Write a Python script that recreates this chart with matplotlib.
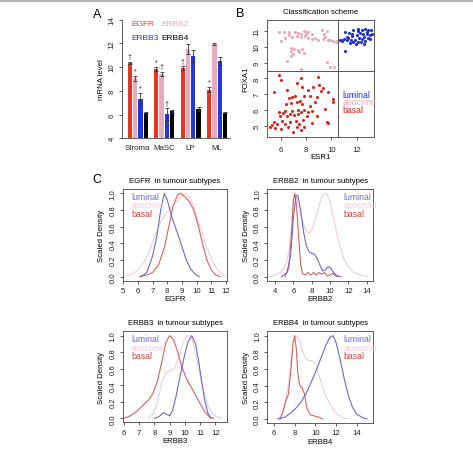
import matplotlib
matplotlib.use('Agg')
import matplotlib.pyplot as plt
from matplotlib.lines import Line2D

plt.rcParams['font.family'] = ['Liberation Sans', 'DejaVu Sans']

# ---------------- Panel A data ----------------
groups = ['Stroma', 'MaSC', 'LP', 'ML']
genes = ['EGFR', 'ERBB2', 'ERBB3', 'ERBB4']
egfr_level = [10.35, 9.84, 9.93, 8.10]
erbb2_level = [9.06, 9.42, 11.53, 11.95]
erbb3_level = [7.31, 6.05, 10.97, 10.54]
erbb4_level = [6.10, 6.27, 6.47, 6.16]
egfr_err = [0.12, 0.2, 0.15, 0.2]
erbb2_err = [0.2, 0.2, 0.4, 0.1]
erbb3_err = [0.5, 0.5, 0.5, 0.35]
erbb4_err = [0.08, 0.1, 0.2, 0.05]
egfr_sig = ['†', '*', '†', '*']
erbb2_sig = ['*', '†', '', '']
erbb3_sig = ['*', '†', '', '']
erbb4_sig = ['', '', '', '']

# ---------------- Panel B data ----------------
apocrine_esr1 = [5.87, 6.26, 6.66, 7.13, 7.39, 7.87, 8.02, 8.18, 7.97, 7.60, 8.44, 9.23, 9.63, 9.44,
                 6.02, 6.34, 6.66, 6.87, 7.26, 7.60, 7.92, 8.13, 8.44, 8.71, 8.97, 9.37, 9.50, 9.71,
                 9.89, 10.16, 10.42, 10.34, 6.81, 7.08, 7.39, 7.66, 6.81, 7.45, 6.97, 7.87, 6.47,
                 7.60, 9.89, 10.23, 9.68, 6.80]
apocrine_foxa1 = [10.98, 10.98, 10.98, 10.93, 10.89, 11.02, 10.98, 10.93, 10.85, 10.81, 10.85, 11.06,
                  11.02, 10.85, 10.38, 10.59, 10.74, 10.64, 10.68, 10.64, 10.68, 10.59, 10.51, 10.55,
                  10.42, 10.51, 10.64, 10.42, 10.47, 10.38, 10.38, 10.30, 9.96, 9.87, 9.83, 9.87,
                  9.74, 9.68, 9.53, 9.62, 9.11, 8.58, 8.73, 8.73, 9.02, 9.45]
luminal_esr1 = [11.08, 11.39, 11.73, 12.13, 12.39, 12.66, 12.92, 13.13, 13.23, 12.79, 12.52, 12.26,
                12.00, 11.66, 11.34, 11.02, 10.76, 10.87, 11.21, 11.55, 11.87, 12.18, 12.55, 12.87,
                13.08, 12.66, 12.34, 12.08, 11.73, 11.47, 11.92, 12.39, 12.79, 11.23, 11.60, 11.08,
                10.71, 12.13, 13.05, 12.60]
luminal_foxa1 = [10.96, 10.89, 11.06, 11.02, 11.10, 11.17, 11.06, 11.10, 10.85, 10.85, 10.81, 10.89,
                 10.74, 10.68, 10.59, 10.51, 10.47, 10.38, 10.42, 10.42, 10.47, 10.59, 10.64, 10.59,
                 10.51, 10.38, 10.30, 10.34, 10.30, 10.25, 10.17, 10.51, 10.96, 10.64, 10.85, 9.74,
                 10.42, 11.15, 10.74, 10.17]
basal_esr1 = [5.87, 6.02, 7.60, 8.97, 5.44, 6.47, 7.29, 7.71, 8.13, 8.52, 9.05, 9.37, 9.76, 10.16,
              6.87, 7.13, 6.66, 7.87, 8.29, 7.55, 8.84, 6.39, 6.81, 7.29, 7.71, 8.31, 8.71, 5.87,
              6.34, 6.92, 7.39, 7.87, 8.44, 9.50, 5.50, 5.94, 6.21, 6.47, 6.73, 7.08, 7.34, 7.60,
              8.05, 8.84, 9.63, 9.76, 5.34, 5.68, 6.08, 6.34, 6.73, 7.18, 7.45, 7.79, 5.16, 5.55,
              6.02, 6.60, 7.26, 7.60, 8.18, 7.00, 7.87, 8.50, 10.16, 9.18]
basal_foxa1 = [8.19, 7.88, 8.02, 8.09, 7.13, 7.28, 7.71, 7.45, 7.24, 7.45, 7.56, 7.41, 7.11, 6.71,
               6.82, 6.90, 6.77, 6.86, 6.90, 6.56, 6.82, 6.39, 6.43, 6.47, 6.39, 6.26, 6.52, 5.84,
               5.92, 5.92, 6.01, 6.01, 5.92, 6.07, 5.24, 5.58, 5.80, 5.63, 5.73, 5.67, 5.73, 5.84,
               5.63, 5.63, 5.24, 5.16, 5.01, 5.12, 5.29, 5.08, 5.22, 5.29, 5.12, 5.33, 4.91, 4.86,
               4.80, 4.91, 4.91, 4.69, 5.84, 4.59, 4.91, 5.16, 6.50, 7.20]
esr1_cut = 10.55
foxa1_cut = 8.5

# ---------------- Panel C data (scaled densities) ----------------
egfr_lum_x = [6.2, 6.6, 7.0, 7.3, 7.55, 7.8, 8.0, 8.3, 8.7, 9.0, 9.3, 9.6, 9.9, 10.2]
egfr_lum_y = [0.0, 0.05, 0.25, 0.5, 0.8, 1.0, 0.92, 0.72, 0.52, 0.36, 0.2, 0.09, 0.03, 0.0]
egfr_apo_x = [5.1, 5.6, 6.0, 6.4, 6.8, 7.2, 7.6, 8.0, 8.4, 8.8, 9.2, 9.5, 9.8, 10.2, 10.6, 11.0, 11.4, 11.8, 12.0]
egfr_apo_y = [0.0, 0.03, 0.08, 0.17, 0.32, 0.52, 0.68, 0.78, 0.85, 0.93, 1.0, 0.96, 0.84, 0.62, 0.4, 0.22, 0.09, 0.02, 0.0]
egfr_bas_x = [6.1, 6.6, 7.0, 7.4, 7.8, 8.1, 8.4, 8.7, 8.9, 9.2, 9.5, 9.8, 10.1, 10.4, 10.7, 11.0, 11.3, 11.6]
egfr_bas_y = [0.0, 0.02, 0.05, 0.14, 0.35, 0.6, 0.85, 0.98, 1.0, 0.96, 0.9, 0.8, 0.62, 0.4, 0.2, 0.08, 0.02, 0.0]

erbb2_lum_x = [4.7, 5.3, 5.7, 6.0, 6.3, 6.5, 6.8, 7.1, 7.4, 7.7, 8.0, 8.3, 8.6, 8.9, 9.2, 9.5, 9.8, 10.1, 10.4, 10.8, 11.2]
erbb2_lum_y = [0.0, 0.05, 0.25, 0.7, 0.98, 0.97, 0.8, 0.55, 0.38, 0.3, 0.28, 0.27, 0.22, 0.14, 0.07, 0.08, 0.12, 0.1, 0.05, 0.01, 0.0]
erbb2_apo_x = [3.3, 4.0, 4.7, 5.2, 5.6, 5.9, 6.1, 6.3, 6.6, 6.9, 7.2, 7.5, 7.8, 8.1, 8.4, 8.7, 9.0, 9.3,
               9.6, 9.9, 10.2, 10.6, 11.0, 11.5, 12.0, 12.6, 13.3, 14.2]
erbb2_apo_y = [0.0, 0.02, 0.06, 0.15, 0.35, 0.75, 0.95, 0.97, 0.85, 0.7, 0.6, 0.53, 0.52, 0.58, 0.68, 0.8,
               0.92, 0.99, 1.0, 0.94, 0.8, 0.6, 0.4, 0.22, 0.12, 0.05, 0.02, 0.0]
erbb2_bas_x = [5.1, 5.5, 5.8, 6.0, 6.15, 6.35, 6.6, 6.8, 7.0, 7.3, 7.6, 7.9, 8.2, 8.5, 8.8, 9.1, 9.4, 9.7,
               10.0, 10.3, 10.6, 10.9]
erbb2_bas_y = [0.0, 0.1, 0.5, 0.92, 1.0, 0.85, 0.45, 0.15, 0.04, 0.02, 0.05, 0.02, 0.05, 0.02, 0.05, 0.03,
               0.05, 0.01, 0.02, 0.04, 0.01, 0.0]

erbb3_lum_x = [8.0, 8.3, 8.6, 8.8, 9.0, 9.2, 9.4, 9.7, 10.0, 10.2, 10.45, 10.7, 10.9, 11.1, 11.3, 11.5, 11.7]
erbb3_lum_y = [0.0, 0.02, 0.07, 0.05, 0.03, 0.1, 0.25, 0.52, 0.78, 0.92, 1.0, 0.9, 0.7, 0.45, 0.22, 0.07, 0.0]
erbb3_apo_x = [7.6, 7.9, 8.2, 8.5, 8.75, 9.0, 9.3, 9.6, 9.9, 10.15, 10.4, 10.6, 10.9, 11.2, 11.5, 11.8, 12.1, 12.4]
erbb3_apo_y = [0.0, 0.05, 0.2, 0.45, 0.55, 0.57, 0.6, 0.72, 0.93, 1.0, 0.98, 0.88, 0.6, 0.35, 0.15, 0.06, 0.02, 0.0]
erbb3_bas_x = [6.0, 6.4, 6.8, 7.2, 7.6, 7.9, 8.2, 8.5, 8.75, 9.0, 9.25, 9.5, 9.8, 10.1, 10.4, 10.7, 11.0, 11.3, 11.6, 11.9]
erbb3_bas_y = [0.0, 0.03, 0.08, 0.15, 0.22, 0.3, 0.45, 0.7, 0.92, 1.0, 0.95, 0.82, 0.62, 0.48, 0.38, 0.28, 0.18, 0.08, 0.02, 0.0]

erbb4_lum_x = [6.4, 7.0, 7.6, 8.2, 8.7, 9.2, 9.7, 10.2, 10.6, 11.0, 11.4, 11.7, 12.0, 12.4, 12.8, 13.2, 13.6, 14.0, 14.5, 15.0]
erbb4_lum_y = [0.0, 0.02, 0.07, 0.14, 0.22, 0.33, 0.47, 0.62, 0.75, 0.88, 0.98, 1.0, 0.92, 0.72, 0.48, 0.28, 0.14, 0.06, 0.02, 0.0]
erbb4_apo_x = [6.1, 6.5, 6.8, 7.1, 7.4, 7.7, 7.95, 8.2, 8.5, 8.8, 9.1, 9.4, 9.7, 10.0, 10.3, 10.6, 11.0, 11.4,
               11.8, 12.2, 12.6, 13.1]
erbb4_apo_y = [0.0, 0.02, 0.06, 0.2, 0.42, 0.78, 0.97, 1.0, 0.92, 0.8, 0.72, 0.7, 0.7, 0.66, 0.55, 0.42, 0.28,
               0.18, 0.1, 0.05, 0.02, 0.0]
erbb4_bas_x = [6.6, 6.9, 7.1, 7.4, 7.65, 7.85, 8.0, 8.15, 8.3, 8.5, 8.7, 8.95, 9.2, 9.5, 9.8, 10.1, 10.4, 10.7]
erbb4_bas_y = [0.0, 0.1, 0.2, 0.3, 0.6, 0.92, 1.0, 0.85, 0.55, 0.4, 0.38, 0.3, 0.12, 0.05, 0.04, 0.03, 0.02, 0.0]

subtypes = ['luminal', 'apocrine', 'basal']

# ---------------- styling ----------------
W, H = 473, 452
fig = plt.figure(figsize=(W / 100, H / 100), dpi=100)
FS = 5.6
AX_COL = '#444444'
bar_cols = ['#EA3323', '#E9AAB9', '#2436E0', '#000000']
sc_cols = {'luminal': '#1E2ED2', 'apocrine': '#E9A9B9', 'basal': '#D6281C'}
dens_cols = {'luminal': '#6A6ACD', 'apocrine': '#EFCDD5', 'basal': '#D9625B'}


def add_ax(l, t, r, b):
    return fig.add_axes([l / W, 1 - b / H, (r - l) / W, (b - t) / H])


def ftext(x, y, s, **kw):
    fig.text(x / W, 1 - y / H, s, **kw)


def style_r(ax, rot_y=True):
    for sp in ax.spines.values():
        sp.set_linewidth(0.6)
        sp.set_color(AX_COL)
    ax.tick_params(labelsize=FS, length=2.5, width=0.6, color=AX_COL, labelcolor='#222222', pad=2)
    if rot_y:
        for lab in ax.get_yticklabels():
            lab.set_rotation(90)
            lab.set_va('center')


# top border line
fig.add_artist(Line2D([0, 1], [1 - 1.8 / H] * 2, color='#9a9a9a', lw=1.1))

# ---------------- Panel A ----------------
axA = add_ax(122, 20.7, 230, 139.3)
levels = [egfr_level, erbb2_level, erbb3_level, erbb4_level]
errs = [egfr_err, erbb2_err, erbb3_err, erbb4_err]
sigs = [egfr_sig, erbb2_sig, erbb3_sig, erbb4_sig]
for j, gname in enumerate(genes):
    xs = [5 * g + 1 + j + 0.5 for g in range(len(groups))]
    hs = [v - 4 for v in levels[j]]
    axA.bar(xs, hs, bottom=4, width=0.8, color=bar_cols[j], linewidth=0)
    axA.errorbar(xs, levels[j], yerr=errs[j], fmt='none', ecolor='#333333', elinewidth=0.6,
                 capsize=1.2, capthick=0.6)
    for x, v, e, s in zip(xs, levels[j], errs[j], sigs[j]):
        if s:
            axA.text(x, v + e + 0.12, s, ha='center', va='bottom', fontsize=5, color='#222222')
axA.set_xlim(0, 108 / 5.28)
axA.set_ylim(4, 14)
axA.set_yticks([4, 6, 8, 10, 12, 14])
axA.set_xticks([5 * g + 3 for g in range(len(groups))])
axA.set_xticklabels(groups)
axA.spines['top'].set_visible(False)
axA.spines['right'].set_visible(False)
style_r(axA)
axA.tick_params(axis='x', length=0, pad=4, labelsize=5.7)
axA.set_ylabel('mRNA level', fontsize=FS, labelpad=3)
ftext(131, 25, 'EGFR', fontsize=6, color=bar_cols[0], va='center')
ftext(161, 25, 'ERBB2', fontsize=6, color=bar_cols[1], va='center')
ftext(131, 39, 'ERBB3', fontsize=6, color=bar_cols[2], va='center')
ftext(161, 39, 'ERBB4', fontsize=6, color=bar_cols[3], va='center')
ftext(97, 15, 'A', fontsize=9, va='center', ha='center')

# ---------------- Panel B ----------------
axB = add_ax(266.7, 20.7, 374, 138.3)
axB.scatter(apocrine_esr1, apocrine_foxa1, s=5, color=sc_cols['apocrine'], linewidths=0)
axB.scatter(luminal_esr1, luminal_foxa1, s=5, color=sc_cols['luminal'], linewidths=0)
axB.scatter(basal_esr1, basal_foxa1, s=5, color=sc_cols['basal'], linewidths=0)
axB.axvline(esr1_cut, color='#555555', lw=0.7)
axB.axhline(foxa1_cut, color='#555555', lw=0.7)
axB.set_xlim(4.895, 13.36)
axB.set_ylim(4.25, 11.74)
axB.set_xticks([6, 8, 10, 12])
axB.set_yticks([5, 6, 7, 8, 9, 10, 11])
style_r(axB)
axB.tick_params(axis='x', pad=4)
axB.set_xlabel('ESR1', fontsize=FS, labelpad=0)
axB.set_ylabel('FOXA1', fontsize=FS, labelpad=3)
axB.set_title('Classification scheme', fontsize=FS, pad=5)
for k, st in enumerate(subtypes):
    ftext(342.3, 95.3 + 7.7 * k, st, fontsize=6.3, color=sc_cols[st], va='center')
ftext(240, 14, 'B', fontsize=9, va='center', ha='center')

# ---------------- Panel C ----------------
panels = [
    ('EGFR', (122.7, 190, 227.3, 281.7), (4.96, 12.09), list(range(5, 13)),
     (egfr_lum_x, egfr_lum_y), (egfr_apo_x, egfr_apo_y), (egfr_bas_x, egfr_bas_y), 'left'),
    ('ERBB2', (267.3, 190, 373, 281.7), (3.16, 14.7), [4, 6, 8, 10, 12, 14],
     (erbb2_lum_x, erbb2_lum_y), (erbb2_apo_x, erbb2_apo_y), (erbb2_bas_x, erbb2_bas_y), 'right'),
    ('ERBB3', (122.7, 332.3, 227.3, 423.3), (5.91, 12.79), list(range(6, 13)),
     (erbb3_lum_x, erbb3_lum_y), (erbb3_apo_x, erbb3_apo_y), (erbb3_bas_x, erbb3_bas_y), 'left'),
    ('ERBB4', (267.3, 332.3, 373, 424), (5.35, 15.58), [6, 8, 10, 12, 14],
     (erbb4_lum_x, erbb4_lum_y), (erbb4_apo_x, erbb4_apo_y), (erbb4_bas_x, erbb4_bas_y), 'right'),
]
for gene, (l, t, r, b), xl, xt, lum, apo, bas, legpos in panels:
    ax = add_ax(l, t, r, b)
    ax.plot(apo[0], apo[1], color=dens_cols['apocrine'], lw=0.8)
    ax.plot(bas[0], bas[1], color=dens_cols['basal'], lw=0.8)
    ax.plot(lum[0], lum[1], color=dens_cols['luminal'], lw=0.8)
    ax.set_xlim(*xl)
    ax.set_ylim(-0.048, 1.052)
    ax.set_xticks(xt)
    ax.set_yticks([0.0, 0.2, 0.4, 0.6, 0.8, 1.0])
    ax.set_yticklabels(['0.0', '0.2', '0.4', '0.6', '0.8', '1.0'])
    style_r(ax)
    ax.set_xlabel(gene, fontsize=FS, labelpad=1)
    ax.set_ylabel('Scaled Density', fontsize=FS, labelpad=3)
    ax.set_title(gene + '  in tumour subtypes', fontsize=FS, pad=5)
    lx = l + 8.3 if legpos == 'left' else 343.3
    for k, st in enumerate(subtypes):
        ftext(lx, t + 7.7 + 8.3 * k, st, fontsize=6.3, color=dens_cols[st] if st != 'basal' else '#D0453E',
              va='center')
ftext(97, 180, 'C', fontsize=9, va='center', ha='center')

fig.savefig('out.png', dpi=100)
